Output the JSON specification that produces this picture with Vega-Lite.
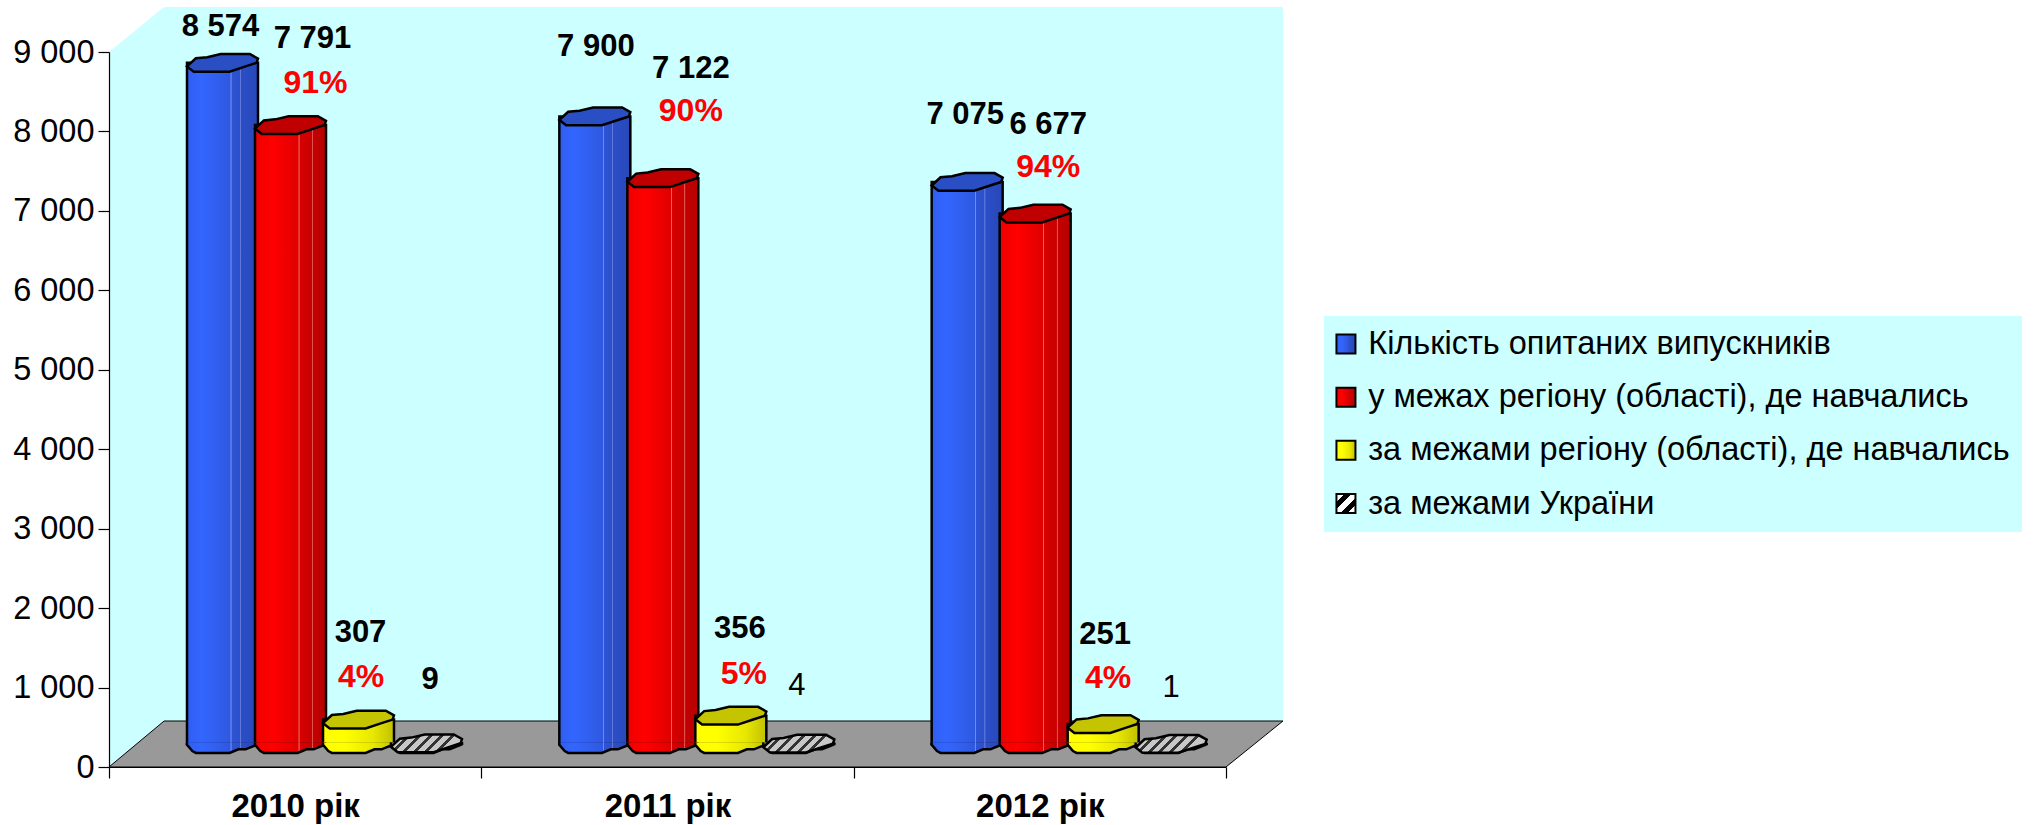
{"$schema":"https://vega.github.io/schema/vega-lite/v6.json","width":1117,"height":715,"autosize":"none","padding":{"left":109,"top":52,"right":808,"bottom":58},"background":"white","config":{"font":"Liberation Sans","view":{"stroke":null}},"params":[{"name":"gBlue","value":{"gradient":"linear","x1":0,"y1":0,"x2":1,"y2":0,"stops":[{"offset":0,"color":"#2f5df0"},{"offset":0.2,"color":"#3366ff"},{"offset":0.61,"color":"#2f58e0"},{"offset":0.615,"color":"#6f8ae8"},{"offset":0.625,"color":"#6f8ae8"},{"offset":0.63,"color":"#2d54d6"},{"offset":0.74,"color":"#2c50cc"},{"offset":0.745,"color":"#6078d8"},{"offset":0.755,"color":"#6078d8"},{"offset":0.76,"color":"#2b4ec8"},{"offset":1,"color":"#2848b8"}]}},{"name":"gRed","value":{"gradient":"linear","x1":0,"y1":0,"x2":1,"y2":0,"stops":[{"offset":0,"color":"#f00000"},{"offset":0.25,"color":"#ff0000"},{"offset":0.61,"color":"#e00000"},{"offset":0.615,"color":"#f06060"},{"offset":0.625,"color":"#f06060"},{"offset":0.63,"color":"#d80000"},{"offset":0.8,"color":"#c80000"},{"offset":0.805,"color":"#e05050"},{"offset":0.815,"color":"#e05050"},{"offset":0.82,"color":"#c40000"},{"offset":1,"color":"#b80000"}]}},{"name":"gYellow","value":{"gradient":"linear","x1":0,"y1":0,"x2":1,"y2":0,"stops":[{"offset":0.3,"color":"#ffff00"},{"offset":0.7,"color":"#e8e800"},{"offset":1,"color":"#c0c000"}]}},{"name":"gKey","value":{"gradient":"linear","x1":0,"y1":0,"x2":1,"y2":1,"stops":[{"offset":0,"color":"#fff"},{"offset":0.2,"color":"#fff"},{"offset":0.2,"color":"#000"},{"offset":0.4,"color":"#000"},{"offset":0.4,"color":"#fff"},{"offset":0.6,"color":"#fff"},{"offset":0.6,"color":"#000"},{"offset":0.8,"color":"#000"},{"offset":0.8,"color":"#fff"},{"offset":1,"color":"#fff"}]}},{"name":"gHatch","value":{"gradient":"linear","x1":0,"y1":0,"x2":1,"y2":0.25,"stops":[{"offset":0,"color":"#c8c8c8"},{"offset":0.09,"color":"#c8c8c8"},{"offset":0.09,"color":"#333"},{"offset":0.143,"color":"#333"},{"offset":0.143,"color":"#c8c8c8"},{"offset":0.233,"color":"#c8c8c8"},{"offset":0.233,"color":"#333"},{"offset":0.286,"color":"#333"},{"offset":0.286,"color":"#c8c8c8"},{"offset":0.376,"color":"#c8c8c8"},{"offset":0.376,"color":"#333"},{"offset":0.429,"color":"#333"},{"offset":0.429,"color":"#c8c8c8"},{"offset":0.519,"color":"#c8c8c8"},{"offset":0.519,"color":"#333"},{"offset":0.572,"color":"#333"},{"offset":0.572,"color":"#c8c8c8"},{"offset":0.662,"color":"#c8c8c8"},{"offset":0.662,"color":"#333"},{"offset":0.715,"color":"#333"},{"offset":0.715,"color":"#c8c8c8"},{"offset":0.805,"color":"#c8c8c8"},{"offset":0.805,"color":"#333"},{"offset":0.858,"color":"#333"},{"offset":0.858,"color":"#c8c8c8"},{"offset":1,"color":"#c8c8c8"}]}}],"datasets":{"rows":[{"year":"2010 рік","series":"Кількість опитаних випускників","value":8574},{"year":"2010 рік","series":"у межах регіону (області), де навчались","value":7791,"share":0.91},{"year":"2010 рік","series":"за межами регіону (області), де навчались","value":307,"share":0.04},{"year":"2010 рік","series":"за межами України","value":9},{"year":"2011 рік","series":"Кількість опитаних випускників","value":7900},{"year":"2011 рік","series":"у межах регіону (області), де навчались","value":7122,"share":0.9},{"year":"2011 рік","series":"за межами регіону (області), де навчались","value":356,"share":0.05},{"year":"2011 рік","series":"за межами України","value":4},{"year":"2012 рік","series":"Кількість опитаних випускників","value":7075},{"year":"2012 рік","series":"у межах регіону (області), де навчались","value":6677,"share":0.94},{"year":"2012 рік","series":"за межами регіону (області), де навчались","value":251,"share":0.04},{"year":"2012 рік","series":"за межами України","value":1}],"wall":[{"pos":0,"low":0,"high":9000},{"pos":0.148,"low":579,"high":9566},{"pos":3.153,"low":579,"high":9566}],"floor":[{"pos":0,"low":0,"high":0},{"pos":0.148,"low":0,"high":579},{"pos":3,"low":0,"high":579},{"pos":3.153,"low":579,"high":579}]},"resolve":{"scale":{"x":"independent"},"axis":{"x":"independent"}},"layer":[{"data":{"name":"wall"},"mark":{"type":"area","color":"#ccffff","clip":false},"encoding":{"x":{"field":"pos","type":"quantitative","axis":null,"scale":{"domain":[0,3],"nice":false,"zero":false}},"y":{"field":"low","type":"quantitative","scale":{"domain":[0,9000],"nice":false},"axis":{"values":[0,1000,2000,3000,4000,5000,6000,7000,8000,9000],"title":null,"grid":false,"zindex":1,"domainColor":"#000","domainWidth":1.2,"tickColor":"#000","tickSize":11,"tickWidth":1.2,"labelFontSize":32.5,"labelColor":"#000","labelPadding":4,"labelExpr":"replace(format(datum.value,','),',',' ')"}},"y2":{"field":"high"}}},{"data":{"name":"floor"},"mark":{"type":"area","color":"#999999","stroke":"#000","strokeWidth":1,"clip":false},"encoding":{"x":{"field":"pos","type":"quantitative","axis":null,"scale":{"domain":[0,3],"nice":false,"zero":false}},"y":{"field":"low","type":"quantitative","scale":{"domain":[0,9000],"nice":false}},"y2":{"field":"high"}}},{"data":{"name":"rows"},"resolve":{"scale":{"color":"independent"}},"encoding":{"x":{"field":"year","type":"nominal","sort":null,"scale":{"paddingInner":0,"paddingOuter":0},"axis":{"title":null,"labelAngle":0,"labelFontSize":33,"labelFontWeight":"bold","labelColor":"#000","domainColor":"#000","domainWidth":1.2,"tickColor":"#000","tickWidth":1.2,"tickSize":11,"tickBand":"extent","labelPadding":12,"zindex":1}},"xOffset":{"field":"series","type":"nominal","sort":null,"scale":{"range":[79.5,351.5]}},"y":{"field":"value","type":"quantitative","scale":{"domain":[0,9000],"nice":false}}},"layer":[{"mark":{"type":"bar","width":71,"yOffset":-23,"stroke":"#000","strokeWidth":2.5,"clip":false},"encoding":{"y":{"field":"value","type":"quantitative","stack":null,"scale":{"domain":[0,9000],"nice":false}},"y2":{"datum":289.5},"color":{"field":"series","type":"nominal","scale":{"domain":["Кількість опитаних випускників","у межах регіону (області), де навчались","за межами регіону (області), де навчались","за межами України"],"range":[{"expr":"gBlue"},{"expr":"gRed"},{"expr":"gYellow"},{"expr":"gKey"}]},"legend":{"orient":"none","legendX":1215,"legendY":264,"title":null,"fillColor":"#ccffff","padding":11.7,"labelFontSize":32.5,"labelColor":"#000","labelLimit":800,"labelOffset":6,"rowPadding":20.2,"symbolOffset":-6,"symbolType":"square","symbolSize":361,"symbolStrokeColor":"#000","symbolStrokeWidth":2}}}},{"mark":{"type":"point","filled":true,"size":5041,"opacity":1,"yOffset":-23,"stroke":"#000","strokeWidth":2.5,"shape":"M-1,-0.04 L-1,0.02 L-0.85,0.2 L-0.75,0.25 L0.2,0.25 L0.45,0.15 L0.65,0.15 L0.97,0.02 L1,-0.04","clip":false},"encoding":{"y":{"datum":0,"type":"quantitative","scale":{"domain":[0,9000],"nice":false}},"color":{"field":"series","type":"nominal","legend":null,"scale":{"domain":["Кількість опитаних випускників","у межах регіону (області), де навчались","за межами регіону (області), де навчались","за межами України"],"range":[{"expr":"gBlue"},{"expr":"gRed"},{"expr":"gYellow"},"#999999"]}}}},{"mark":{"type":"point","filled":true,"size":5041,"opacity":1,"yOffset":-23,"stroke":"#000","strokeWidth":2.5,"shape":"M-1,0.1 L-0.75,-0.13 L-0.43,-0.16 L-0.05,-0.25 L0.77,-0.25 L1,-0.12 L0.96,0 L0.65,0.1 L0.2,0.25 L-0.81,0.25 Z","clip":false},"encoding":{"color":{"field":"series","type":"nominal","legend":null,"scale":{"domain":["Кількість опитаних випускників","у межах регіону (області), де навчались","за межами регіону (області), де навчались","за межами України"],"range":["#2a4fc4","#c00000","#c4c400",{"expr":"gHatch"}]}}}},{"transform":[{"filter":"datum.series=='Кількість опитаних випускників'"}],"mark":{"type":"text","fontSize":31,"fontWeight":"bold","color":"#000","baseline":"middle","clip":false,"dx":{"expr":"datum.year=='2011 рік'?1:-2"},"dy":{"expr":"datum.year=='2010 рік'?-59:datum.year=='2011 рік'?-92:-90"},"text":{"expr":"replace(format(datum.value,','),',',' ')"}}},{"transform":[{"filter":"datum.series=='у межах регіону (області), де навчались'"}],"mark":{"type":"text","fontSize":31,"fontWeight":"bold","color":"#000","baseline":"middle","clip":false,"dx":{"expr":"datum.year=='2010 рік'?22:datum.year=='2011 рік'?28:13"},"dy":{"expr":"datum.year=='2010 рік'?-109:datum.year=='2011 рік'?-132:-112"},"text":{"expr":"replace(format(datum.value,','),',',' ')"}}},{"transform":[{"filter":"datum.series=='за межами регіону (області), де навчались'"}],"mark":{"type":"text","fontSize":31,"fontWeight":"bold","color":"#000","baseline":"middle","clip":false,"dx":{"expr":"datum.year=='2011 рік'?9:2"},"dy":{"expr":"datum.year=='2012 рік'?-112:-110"}},"encoding":{"text":{"field":"value","type":"quantitative"}}},{"transform":[{"filter":"datum.series=='за межами України'"}],"mark":{"type":"text","fontSize":31,"color":"#000","baseline":"middle","clip":false,"fontWeight":{"expr":"datum.year=='2010 рік'?'bold':'normal'"},"dx":{"expr":"datum.year=='2010 рік'?3.5:datum.year=='2011 рік'?-2:0"},"dy":{"expr":"datum.year=='2010 рік'?-86:datum.year=='2011 рік'?-81:-79"}},"encoding":{"text":{"field":"value","type":"quantitative"}}},{"transform":[{"filter":"datum.share!=null && datum.value>1000"}],"mark":{"type":"text","fontSize":32,"fontWeight":"bold","color":"#ff0000","baseline":"middle","clip":false,"dx":{"expr":"datum.year=='2010 рік'?25:datum.year=='2011 рік'?28:13"},"dy":{"expr":"datum.year=='2010 рік'?-65:datum.year=='2011 рік'?-90:-70"}},"encoding":{"text":{"field":"share","type":"quantitative","format":".0%"}}},{"transform":[{"filter":"datum.share!=null && datum.value<1000"}],"mark":{"type":"text","fontSize":32,"fontWeight":"bold","color":"#ff0000","baseline":"middle","clip":false,"dx":{"expr":"datum.year=='2010 рік'?2.5:datum.year=='2011 рік'?13:5"},"dy":{"expr":"datum.year=='2010 рік'?-66:datum.year=='2011 рік'?-65:-69"}},"encoding":{"text":{"field":"share","type":"quantitative","format":".0%"}}}]}]}
